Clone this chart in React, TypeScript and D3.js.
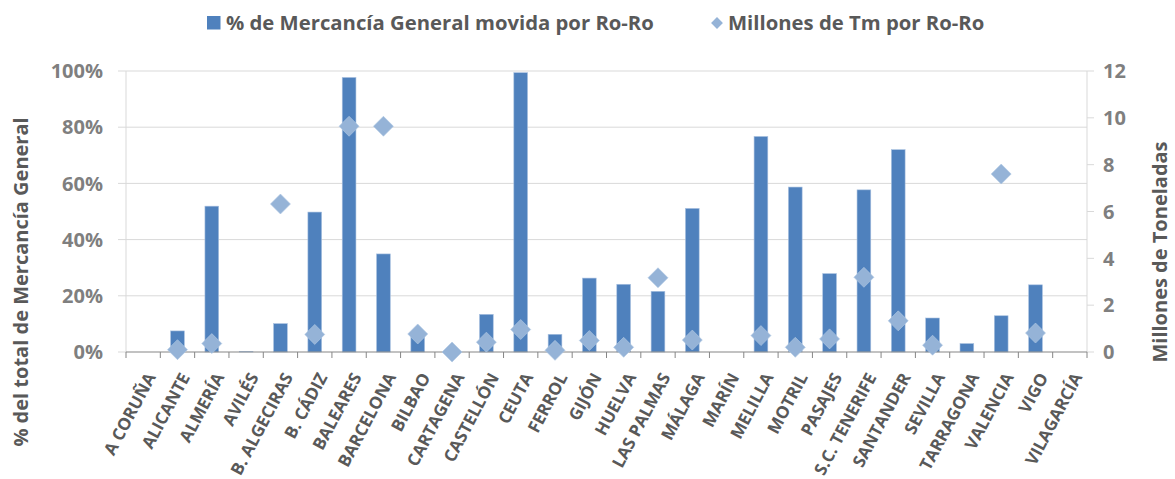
import React from 'react';
import * as d3 from 'd3';

// datos
const puertos = [
  'A CORUÑA', 'ALICANTE', 'ALMERÍA', 'AVILÉS', 'B. ALGECIRAS', 'B. CÁDIZ', 'BALEARES',
  'BARCELONA', 'BILBAO', 'CARTAGENA', 'CASTELLÓN', 'CEUTA', 'FERROL', 'GIJÓN', 'HUELVA',
  'LAS PALMAS', 'MÁLAGA', 'MARÍN', 'MELILLA', 'MOTRIL', 'PASAJES', 'S.C. TENERIFE',
  'SANTANDER', 'SEVILLA', 'TARRAGONA', 'VALENCIA', 'VIGO', 'VILAGARCÍA'
];

// % de mercancía general movida por Ro-Ro
const pctRoRo = [
  0, 7.5, 51.9, 0.2, 10.1, 49.8, 97.7, 34.9, 6.6, 0, 13.4, 99.4, 6.3, 26.3, 24.1,
  21.6, 51.1, 0, 76.7, 58.7, 27.9, 57.7, 72.0, 12.1, 3.0, 12.9, 23.9, 0
];

// millones de toneladas por Ro-Ro (null = sin marcador)
const tmRoRo: (number | null)[] = [
  null, 0.1, 0.36, null, 6.32, 0.75, 9.64, 9.64, 0.77, 0.0, 0.42, 0.96, 0.07, 0.49, 0.2,
  3.17, 0.51, null, 0.7, 0.2, 0.56, 3.19, 1.33, 0.29, null, 7.6, 0.81, null
];

const pctTicks = [0, 20, 40, 60, 80, 100];
const tmTicks = [0, 2, 4, 6, 8, 10, 12];

const serieBarras = '% de Mercancía General movida por Ro-Ro';
const serieMarcas = 'Millones de Tm por Ro-Ro';
const tituloIzq = '% del total de Mercancía General';
const tituloDer = 'Millones de Toneladas';

const W = 1175;
const H = 479;
const margin = { top: 71, right: 88, bottom: 127, left: 126 };
const FONT = '"Open Sans", sans-serif';
const AZUL = '#4F81BD';
const AZUL_CLARO = '#95B3D7';
const GRIS_TXT = '#595959';
const GRIS_TICK = '#7F7F7F';

export default function App() {
  const innerW = W - margin.left - margin.right;
  const innerH = H - margin.top - margin.bottom;

  const x = d3.scaleBand<string>().domain(puertos).range([0, innerW]).paddingInner(0.6).paddingOuter(0.3);
  const xBand = d3.scaleBand<string>().domain(puertos).range([0, innerW]);
  const yL = d3.scaleLinear().domain([0, 100]).range([innerH, 0]);
  const yR = d3.scaleLinear().domain([0, 12]).range([innerH, 0]);

  const diamante = d3.symbol().type(d3.symbolSquare).size(200)();
  const diamanteLeyenda = d3.symbol().type(d3.symbolSquare).size(70)();

  const bordes = puertos.map(p => xBand(p) as number).concat([innerW]);
  const centro = (p: string) => (xBand(p) as number) + xBand.bandwidth() / 2;

  return (
    <svg width={W} height={H} style={{ position: 'absolute', left: 0, top: 0, background: '#fff' }}
      fontFamily={FONT}>
      {/* leyenda */}
      <g fontWeight={700} fontSize={20.3} fill={GRIS_TXT}>
        <rect x={207} y={16} width={13.5} height={13.5} fill={AZUL} />
        <text x={226} y={30}>{serieBarras}</text>
        <path d={diamanteLeyenda} transform="translate(717,23) rotate(45)" fill={AZUL_CLARO} />
        <text x={728} y={30}>{serieMarcas}</text>
      </g>

      <g transform={`translate(${margin.left},${margin.top})`}>
        {/* rejilla */}
        {pctTicks.filter(t => t > 0).map(t => (
          <line key={t} x1={0} x2={innerW} y1={yL(t)} y2={yL(t)} stroke="#D9D9D9" strokeWidth={1} />
        ))}
        {/* eje izquierdo */}
        <line x1={0} x2={0} y1={0} y2={innerH} stroke="#D9D9D9" />
        {pctTicks.map(t => (
          <g key={t} transform={`translate(0,${yL(t)})`}>
            <line x1={-8} x2={0} stroke="#D9D9D9" />
            <text x={-23} dy="0.36em" textAnchor="end" fontSize={20} fontWeight={700} fill={GRIS_TICK}>
              {`${t}%`}
            </text>
          </g>
        ))}
        {/* eje derecho */}
        <line x1={innerW} x2={innerW} y1={0} y2={innerH} stroke="#D9D9D9" />
        {tmTicks.map(t => (
          <g key={t} transform={`translate(${innerW},${yR(t)})`}>
            <line x1={0} x2={7} stroke="#D9D9D9" />
            <text x={16} dy="0.36em" textAnchor="start" fontSize={20} fontWeight={700} fill={GRIS_TICK}>
              {t}
            </text>
          </g>
        ))}

        {/* barras */}
        {puertos.map((p, i) => (
          <rect key={p} x={x(p)} y={yL(pctRoRo[i])} width={x.bandwidth()}
            height={innerH - yL(pctRoRo[i])} fill={AZUL} stroke="#A9C1E0" strokeWidth={0.6} />
        ))}

        {/* eje inferior */}
        <line x1={0} x2={innerW} y1={innerH} y2={innerH} stroke="#868686" strokeWidth={1.2} />
        {bordes.map((b, i) => (
          <line key={i} x1={b} x2={b} y1={innerH} y2={innerH + 6} stroke="#868686" />
        ))}

        {/* marcadores */}
        {puertos.map((p, i) => tmRoRo[i] === null ? null : (
          <path key={p} d={diamante}
            transform={`translate(${centro(p)},${yR(tmRoRo[i] as number)}) rotate(45)`}
            fill={AZUL_CLARO} stroke="#B0C7E3" strokeWidth={0.6} />
        ))}

        {/* etiquetas categorías */}
        {puertos.map(p => (
          <text key={p} fontSize={17} fontWeight={700} fill={GRIS_TXT} textAnchor="end"
            transform={`translate(${centro(p) + 13},${innerH + 25}) rotate(-62)`}>
            {p}
          </text>
        ))}
      </g>

      {/* títulos de ejes */}
      <text fontSize={20} fontWeight={700} fill={GRIS_TXT} textAnchor="middle"
        transform={`translate(28,282) rotate(-90)`}>
        {tituloIzq}
      </text>
      <text fontSize={20} fontWeight={700} fill={GRIS_TXT} textAnchor="middle"
        transform={`translate(1167,252) rotate(-90)`}>
        {tituloDer}
      </text>
    </svg>
  );
}
